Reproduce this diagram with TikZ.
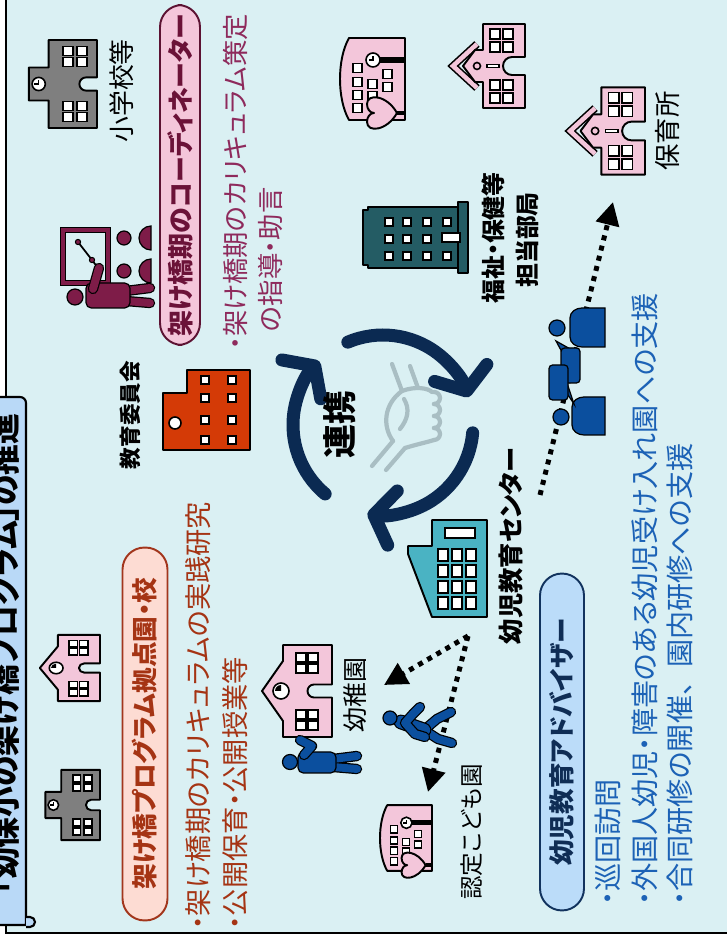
\documentclass[tikz,border=0pt]{standalone}
\usepackage{fontspec}
\setmainfont{Noto Sans CJK JP}[RawFeature=+palt]
\usetikzlibrary{arrows.meta}

\definecolor{paper}{HTML}{DAF0F3}
\definecolor{titleblue}{HTML}{B9D9F7}
\definecolor{schoolpink}{HTML}{F3C6DA}
\definecolor{schoolgray}{HTML}{7F7F7F}
\definecolor{boardred}{HTML}{D43A06}
\definecolor{officeteal}{HTML}{245C64}
\definecolor{centerteal}{HTML}{4AB3C3}
\definecolor{ringnavy}{HTML}{0B2A52}
\definecolor{peopleblue}{HTML}{0B4F9E}
\definecolor{wine}{HTML}{7E1C48}
\definecolor{winetext}{HTML}{8E2A5C}
\definecolor{coordfill}{HTML}{F4C6DA}
\definecolor{coordline}{HTML}{5C1232}
\definecolor{coordtext}{HTML}{6B1238}
\definecolor{basefill}{HTML}{FDDCD3}
\definecolor{baseline}{HTML}{A2361C}
\definecolor{basetext}{HTML}{A53414}
\definecolor{advfill}{HTML}{BBDCF9}
\definecolor{advline}{HTML}{12335E}
\definecolor{advhead}{HTML}{0F2D55}
\definecolor{advtext}{HTML}{1C62B6}
\definecolor{handgray}{HTML}{A9BEC3}

\newcommand{\jsize}[2]{\fontsize{#1}{#2}\selectfont}
\newcommand{\wideten}{{\addfontfeature{RawFeature=-palt}、}}

\tikzset{
  bldg/.style={draw=black, line width=1.1pt, fill=#1, line join=round},
  win/.style={draw=black, line width=0.9pt, fill=white},
  pill/.style={draw=#1, line width=1.1pt, rounded corners=0.44cm, inner sep=0pt},
  tag/.style={font=\jsize{#1}{#1}, inner sep=0pt},
  bold tag/.style={font=\bfseries\jsize{#1}{#1}, inner sep=0pt},
  bullet/.style={anchor=west, inner sep=0pt, font=\jsize{#1}{#1}},
  ring/.style={draw=ringnavy, line width=0.26cm, line cap=round,
    -{Straight Barb[length=0.38cm,width=1.1cm,round]}},
  dotline/.style={line width=0.1cm, dash pattern=on 0.1cm off 0.11cm,
    -{Triangle[length=0.46cm,width=0.46cm]}},
  person/.style={draw=black, line width=0.7pt, double=#1, double distance=4.5pt,
    line cap=round, line join=round},
  hand/.style={draw=handgray, line width=2.4pt, line cap=round, line join=round},
  % school with flat tower and clock
  pics/flat school/.style={code={
    \filldraw[bldg=#1] (-40,0) -- (-6,0) -- (-6,10) arc (180:0:6) -- (6,0) -- (40,0)
      -- (40,44) -- (15,44) -- (15,62) -- (-15,62) -- (-15,44) -- (-40,44) -- cycle;
    \filldraw[win] (0,53) circle (6);
    \draw[line width=0.9pt] (0,57) -- (0,53) -- (3.5,53);
    \foreach \x in {-34,-24,16,26}
      \foreach \y in {9,22}
        \filldraw[win] (\x,\y) rectangle ++(8,9);
  }},
  % school with a gable
  pics/gable school/.style={code={
    \filldraw[bldg=#1] (-46,0) -- (-6.5,0) -- (-6.5,18) arc (180:0:6.5) -- (6.5,0) -- (46,0)
      -- (46,49) -- (30,49) -- (0,70) -- (-30,49) -- (-46,49) -- cycle;
    \filldraw[win] (0,51) circle (8);
    \fill (0,51) -- (0,57) arc (90:0:6) -- cycle;
    \foreach \x in {-39,-28,18,29}
      \foreach \y in {14,26}
        \filldraw[win] (\x,\y) rectangle ++(9,10);
  }},
  % nursery with a double roof line
  pics/chevron school/.style={code={
    \draw[draw=black, line width=0.9pt, double=#1, double distance=2.6pt, line join=miter]
      (-22,48) -- (0,72) -- (22,48);
    \filldraw[bldg=#1] (-42,0) -- (-9,0) -- (-9,13) arc (180:0:9) -- (9,0) -- (42,0)
      -- (42,42) -- (16,42) -- (16,50) -- (0,62) -- (-16,50) -- (-16,42) -- (-42,42) -- cycle;
    \draw[line width=0.9pt] (0,48) circle (3.5);
    \filldraw[win] (-1.5,26) rectangle (1.5,38);
    \foreach \x in {-37,-24,14,27}
      \foreach \y in {12,25}
        \filldraw[win] (\x,\y) rectangle ++(10,10);
  }},
  % kodomoen with clock post and tree
  pics/kodomoen/.style={code={
    \filldraw[bldg=#1] (-41,0) -- (-41,56) .. controls (-20,68) and (20,68) .. (41,56)
      -- (41,0) -- cycle;
    \foreach \x/\y in {-33.5/43,-20.5/43,-7.5/43,6.5/43,-21.5/28,-9.5/28,-12.5/13,0.5/13}
      \filldraw[win] (\x,\y) rectangle ++(9,9);
    \draw[line width=3pt] (19,28) -- (19,0);
    \filldraw[win] (19,32) circle (7);
    \draw[line width=0.9pt] (19,36) -- (19,32) -- (23,32);
    \filldraw[bldg=#1] (-34,8) .. controls (-52,18) and (-54,38) .. (-43,38)
      .. controls (-38,38) and (-34,35) .. (-34,31) .. controls (-34,35) and (-30,38) .. (-25,38)
      .. controls (-14,38) and (-16,18) .. (-34,8) -- cycle;
    \draw[line width=2pt] (-34,8) -- (-34,0);
  }},
}

\begin{document}
\begin{tikzpicture}[x=0.02cm, y=0.02cm, rotate=90, transform shape]
\useasboundingbox (0,-727) rectangle (944,0);
\clip (0,-727) rectangle (944,0);
\fill[white] (0,-727) rectangle (944,0);
\fill[paper] (11,-6) rectangle (944,-727);
\draw[line width=1.2pt] (11,-727) -- (11,-6) -- (944,-6);

% title scroll
\filldraw[fill=titleblue, line width=1.2pt] (19,8) -- (19,-26) -- (541,-26)
  to[out=0,in=-90] (547,-20) -- (547,8);
\filldraw[fill=titleblue, line width=1.2pt] (17,-26) -- (17,-30) arc (180:360:5) -- (27,-26);
\node[bold tag=17.5pt] (title) at (290,-5) {「幼保小の架け橋プログラム」の推進};

% coordinator
\node[pill=coordline, fill=coordfill, minimum width=6.8cm, minimum height=0.8cm,
  text=coordtext, font=\bfseries\jsize{14.8pt}{14.8pt}] (coord) at (769,-180)
  {架け橋期のコーディネーター};
\node[bullet=15pt, text=winetext] (coord-1) at (594,-235) {・架け橋期のカリキュラム策定};
\node[bullet=15pt, text=winetext] (coord-2) at (612,-270) {の指導・助言};

% model kindergartens and schools
\node[pill=baseline, fill=basefill, minimum width=7.46cm, minimum height=0.9cm,
  text=basetext, font=\bfseries\jsize{14.6pt}{14.6pt}] (base) at (210,-145)
  {架け橋プログラム拠点園・校};
\node[bullet=15.5pt, text=basetext] (base-1) at (14,-198) {・架け橋期のカリキュラムの実践研究};
\node[bullet=15.5pt, text=basetext] (base-2) at (14,-235) {・公開保育・公開授業等};

% advisor
\node[pill=advline, fill=advfill, minimum width=6.74cm, minimum height=0.88cm,
  text=advhead, font=\bfseries\jsize{14.6pt}{14.6pt}] (adv) at (202,-562)
  {幼児教育アドバイザー};
\node[bullet=16pt, text=advtext] (adv-1) at (38,-608) {・巡回訪問};
\node[bullet=16pt, text=advtext] (adv-2) at (38,-645) {・外国人幼児・障害のある幼児受け入れ園への支援};
\node[bullet=16pt, text=advtext] (adv-3) at (38,-680) {・合同研修の開催\wideten 園内研修への支援};

% buildings
\pic[scale=1.1] at (860,-97) {flat school=schoolgray};
\node[tag=14.7pt] (es) at (853,-122) {小学校等};
\pic[scale=0.88] at (139,-100) {flat school=schoolgray};
\pic[xscale=0.72, yscale=0.86] at (276,-100) {gable school=schoolpink};
\pic at (253,-332) {gable school=schoolpink};
\node[tag=14.2pt] (kg) at (249,-355) {幼稚園};
\pic at (865,-405) {kodomoen=schoolpink};
\pic[scale=0.8] at (106,-432) {kodomoen=schoolpink};
\node[tag=13.4pt] (kc) at (112,-472) {認定こども園};
\pic at (878,-525) {chevron school=schoolpink};
\pic[scale=1.04] at (813,-645) {chevron school=schoolpink};
\node[tag=15pt] (nursery) at (813,-667) {保育所};

% board of education
\filldraw[bldg=boardred] (494,-250) -- (494,-163) -- (551,-163) -- (551,-187)
  -- (574,-187) -- (574,-250) -- cycle;
\filldraw[win] (521,-175) circle (6);
\foreach \u in {500,520,542,560}
  \foreach \v in {201,228}
    \filldraw[win] (\u,-\v) rectangle ++(8,-8);
\node[bold tag=12.3pt] (boe) at (529,-130) {教育委員会};

% welfare office
\filldraw[bldg=officeteal] (676,-458) -- (676,-368) -- (679,-368) -- (679,-363)
  -- (734,-363) -- (734,-368) -- (737,-368) -- (737,-458) -- cycle;
\filldraw[bldg=officeteal] (671,-468) rectangle (742,-458);
\foreach \u in {684,701,718}
  \foreach \v in {385,403,423}
    \filldraw[win] (\u,-\v) rectangle ++(8,-8);
\filldraw[win] (684,-443) rectangle ++(8,-8);
\filldraw[win] (718,-443) rectangle ++(8,-8);
\filldraw[win] (702,-442) rectangle (711,-460);
\node[bold tag=13.6pt] (welfare-1) at (706,-493) {福祉・保健等};
\node[bold tag=13.6pt] (welfare-2) at (704,-527) {担当部局};

% early childhood education centre
\filldraw[bldg=centerteal] (327,-487) -- (327,-432) -- (390,-408) -- (398,-408)
  -- (398,-432) -- (424,-432) -- (424,-487) -- cycle;
\foreach \u in {335,351,367,383}
  \foreach \v in {438,452,466}
    \filldraw[win] (\u,-\v) rectangle ++(12,-10);
\filldraw[win] (406,-445) rectangle (416,-475);
\node[bold tag=14.4pt] (centre) at (398,-511) {幼児教育センター};

% presenter at the board
\draw[draw=black, line width=0.7pt, double=wine, double distance=2.5pt]
  (661,-63) rectangle (714,-108);
\draw[line width=1pt] (702,-78) -- (684,-92) -- (676,-98);
\foreach \p in {(702,-78),(684,-92),(676,-98)}
  \filldraw[fill=wine, line width=0.6pt] \p circle (2.6);
\draw[person=wine] (643,-126) -- (641,-150) (653,-126) -- (656,-150);
\filldraw[fill=wine, line width=0.7pt, rounded corners=3pt] (636,-86) rectangle (661,-130);
\draw[person=wine] (655,-93) -- (676,-99);
\filldraw[fill=wine, line width=0.7pt] (647,-75) circle (8);
\foreach \u in {673,706}{
  \filldraw[fill=wine, line width=0.7pt] (\u,-124) circle (7);
  \filldraw[fill=wine, line width=0.7pt] (\u-12,-151) arc (180:0:12) -- cycle;
}

% cooperation ring
\coordinate (ring) at (519,-383);
\foreach \a in {23,-95,140}
  \draw[ring] ([shift={(\a:90)}]ring) arc (\a:\a-95:90);
\node[bold tag=19.3pt] (coop) at (519,-340) {連携};

% handshake
\draw[hand] (478,-372) -- (503,-393) (474,-386) -- (496,-405);
\draw[hand] (580,-392) -- (553,-402) (578,-410) -- (556,-418);
\draw[hand] (503,-393) .. controls (518,-382) and (540,-384) .. (553,-402)
  .. controls (558,-415) and (556,-428) .. (552,-432);
\draw[hand] (496,-405) .. controls (500,-418) and (502,-428) .. (504,-434);
\foreach \i in {0,1,2,3}
  \draw[hand] (504+12*\i,-434) arc (180:360:6);
\draw[hand] (515,-400) .. controls (525,-408) and (535,-410) .. (545,-404);

% visits
\coordinate (hub) at (308,-468);
\coordinate (to-kg) at (259,-384);
\coordinate (to-kc) at (152,-428);
\coordinate (from-welfare) at (449,-540);
\coordinate (to-nursery) at (742,-613);
\draw[dotline] (hub) -- (to-kg);
\draw[dotline] (hub) -- (to-kc);
\draw[dotline] (from-welfare) -- (to-nursery);

% teacher next to the kindergarten
\draw[person=peopleblue] (177,-333) -- (175,-357) (185,-333) -- (188,-357);
\filldraw[fill=peopleblue, line width=0.7pt, rounded corners=3pt] (171,-298) rectangle (192,-336);
\draw[person=peopleblue] (189,-304) -- (198,-312) -- (204,-300);
\filldraw[fill=peopleblue, line width=0.7pt] (182,-290) circle (7.5);

% advisor walking
\draw[person=peopleblue] (214,-424) -- (205,-438) -- (201,-452) (214,-424) -- (225,-437) -- (232,-451);
\draw[person=peopleblue, double distance=7pt] (222,-401) -- (214,-424);
\draw[person=peopleblue] (220,-406) -- (210,-415) -- (207,-425) (221,-405) -- (230,-413) -- (237,-420);
\filldraw[fill=peopleblue, line width=0.7pt] (226,-390) circle (7);

% consultation
\filldraw[fill=peopleblue, line width=0.7pt] (597,-605) -- (597,-582) to[out=90,in=180] (607,-570)
  -- (626,-570) to[out=0,in=90] (636,-582) -- (636,-605) -- cycle;
\filldraw[fill=peopleblue, line width=0.7pt] (616,-557) circle (8);
\filldraw[fill=peopleblue, line width=0.7pt] (509,-605) -- (509,-584) to[out=90,in=180] (519,-572)
  -- (537,-572) to[out=0,in=90] (547,-584) -- (547,-605) -- cycle;
\filldraw[fill=peopleblue, line width=0.7pt] (527,-561) circle (8);
\filldraw[fill=peopleblue, line width=0.7pt] (590,-563) -- (603,-556) -- (594,-572) -- cycle;
\filldraw[fill=peopleblue, line width=0.7pt, rounded corners=2pt] (561,-561) rectangle (596,-580);
\filldraw[fill=peopleblue, line width=0.7pt] (552,-566) -- (540,-574) -- (558,-568) -- cycle;
\filldraw[fill=peopleblue, line width=0.7pt, rounded corners=2pt] (544,-549) rectangle (579,-568);
\end{tikzpicture}
\end{document}
